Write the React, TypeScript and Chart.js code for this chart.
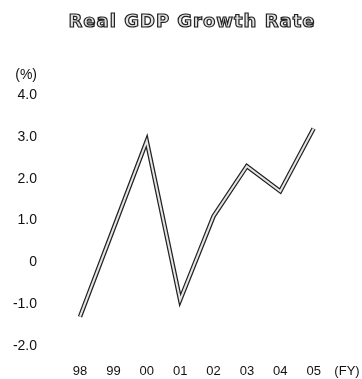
import React, { useEffect, useRef } from "react";
import { Chart, registerables } from "chart.js";

Chart.register(...registerables);

const years = ["98", "99", "00", "01", "02", "03", "04", "05", "(FY)"];
const growth = [-1.3, 0.8, 2.9, -0.9, 1.1, 2.3, 1.7, 3.2, null];
const yTicks = [4, 3, 2, 1, 0, -1, -2];
const titleText = "Real GDP Growth Rate";
const unitText = "(%)";

const FONT = "'Liberation Sans', Arial, sans-serif";

const textPlugin = {
  id: "extraText",
  afterDraw(chart: any) {
    const ctx = chart.ctx;
    ctx.save();
    // title: outlined letters
    ctx.font = `bold 18px 'DejaVu Sans', sans-serif`;
    (ctx as any).letterSpacing = "1px";
    ctx.textAlign = "center";
    ctx.textBaseline = "middle";
    ctx.lineWidth = 1.2;
    ctx.strokeStyle = "#222";
    ctx.fillStyle = "#e4e4e4";
    ctx.fillText(titleText, 192, 22);
    ctx.strokeText(titleText, 192, 22);
    (ctx as any).letterSpacing = "0px";
    // unit label
    ctx.font = `14px ${FONT}`;
    ctx.fillStyle = "#111";
    ctx.textAlign = "right";
    ctx.fillText(unitText, 37, 75);
    ctx.restore();
  },
};

export default function App() {
  const ref = useRef<HTMLCanvasElement>(null);
  useEffect(() => {
    if (!ref.current) return;
    const chart = new Chart(ref.current, {
      type: "line",
      data: {
        labels: years,
        datasets: [
          {
            data: growth,
            borderColor: "#e6e6e6",
            borderWidth: 2,
            pointRadius: 0,
            tension: 0,
            order: 0,
          },
          {
            data: growth,
            borderColor: "#222",
            borderWidth: 4.5,
            pointRadius: 0,
            tension: 0,
            order: 1,
          },
        ],
      },
      options: {
        animation: false,
        responsive: false,
        devicePixelRatio: 1,
        layout: { padding: { top: 95, right: 15, bottom: 0, left: 0 } },
        plugins: {
          legend: { display: false },
          tooltip: { enabled: false },
        },
        scales: {
          x: {
            offset: false,
            afterFit: (scale: any) => {
              scale.height = 33;
              scale.paddingLeft = 0;
              scale.paddingRight = 0;
            },
            grid: { display: false, drawTicks: false },
            border: { display: false },
            ticks: {
              color: "#111",
              font: { family: FONT, size: 13 },
              padding: 18,
              maxRotation: 0,
              autoSkip: false,
            },
          },
          y: {
            min: -2,
            max: 4,
            afterBuildTicks: (scale: any) => {
              scale.ticks = yTicks.map((v) => ({ value: v }));
            },
            afterFit: (scale: any) => {
              scale.width = 80;
              scale.paddingTop = 0;
              scale.paddingBottom = 0;
            },
            grid: { display: false, drawTicks: false },
            border: { display: false },
            ticks: {
              color: "#111",
              font: { family: FONT, size: 14 },
              padding: 43,
              callback: (v: any) => (Number(v) === 0 ? "0" : Number(v).toFixed(1)),
            },
          },
        },
      },
      plugins: [textPlugin],
    });
    return () => chart.destroy();
  }, []);
  return (
    <div style={{ position: "absolute", left: 0, top: 0, width: 362, height: 379, background: "#fff" }}>
      <canvas ref={ref} width={362} height={379} style={{ width: 362, height: 379 }} />
    </div>
  );
}
